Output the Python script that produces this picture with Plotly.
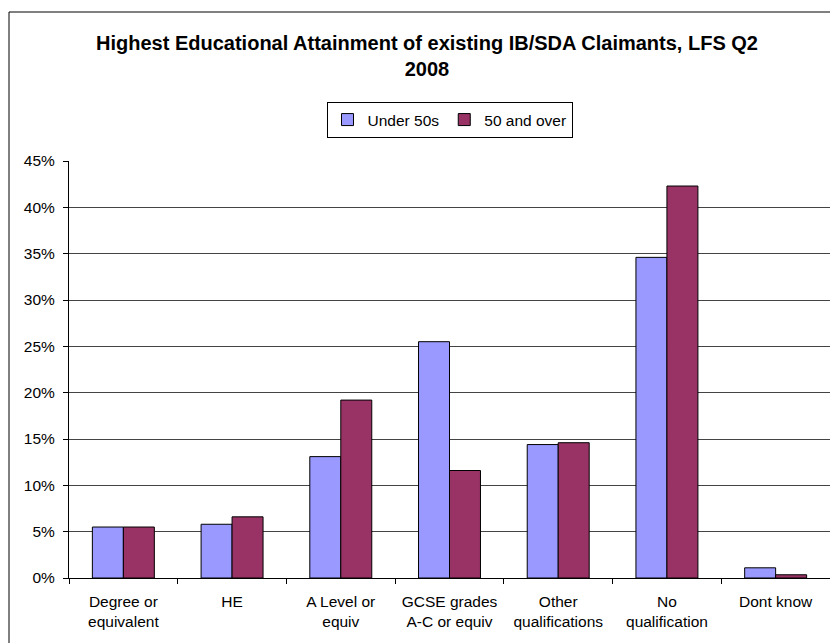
import plotly.graph_objects as go

categories = ["Degree or<br>equivalent", "HE", "A Level or<br>equiv", "GCSE grades<br>A-C or equiv",
              "Other<br>qualifications", "No<br>qualification", "Dont know"]
under_50s = [5.5, 5.8, 13.1, 25.5, 14.4, 34.6, 1.1]
fifty_over = [5.5, 6.6, 19.2, 11.6, 14.6, 42.3, 0.35]
y_ticks = [0, 5, 10, 15, 20, 25, 30, 35, 40, 45]
y_tick_labels = [f"{v}%" for v in y_ticks]

FONT = "Liberation Sans, Arial, sans-serif"

fig = go.Figure()
fig.add_trace(go.Bar(name="Under 50s", x=categories, y=under_50s,
                     marker=dict(color="#9999FF", line=dict(color="black", width=1))))
fig.add_trace(go.Bar(name="50 and over", x=categories, y=fifty_over,
                     marker=dict(color="#993366", line=dict(color="black", width=1))))

fig.update_layout(
    width=830, height=643,
    margin=dict(l=69, r=0, t=161, b=65),
    paper_bgcolor="white", plot_bgcolor="white",
    font=dict(family=FONT, size=15.5, color="black"),
    barmode="group", bargap=0.43, bargroupgap=0,
    title=dict(text="<b>Highest Educational Attainment of existing IB/SDA Claimants, LFS Q2<br>2008</b>",
               x=427/830, xanchor="center", y=1-50/643, yanchor="middle",
               font=dict(family=FONT, size=20, color="black")),
    legend=dict(orientation="h", x=0.5, xanchor="center", y=1+(161-102)/417, yanchor="top",
                bordercolor="black", borderwidth=1, bgcolor="white",
                font=dict(family=FONT, size=15.5), itemwidth=30, traceorder="normal"),
    showlegend=True,
)
fig.update_xaxes(showline=True, linecolor="black", linewidth=1, ticks="outside", ticklen=5,
                 tickcolor="black", tickson="boundaries", showgrid=False, zeroline=False,
                 ticklabelstandoff=9)
fig.update_yaxes(range=[0, 45], tickvals=y_ticks, ticktext=y_tick_labels, showline=True,
                 linecolor="black", linewidth=1, ticks="outside", ticklen=5, tickcolor="black",
                 showgrid=True, gridcolor="#444", gridwidth=1, zeroline=False,
                 ticklabelstandoff=5)

fig.add_shape(type="rect", xref="paper", yref="paper",
              x0=(9-69)/761, x1=1.05, y0=-0.2, y1=1+(161-12)/417,
              line=dict(color="black", width=1), fillcolor="rgba(0,0,0,0)", layer="above")

fig.write_html("out.html")
